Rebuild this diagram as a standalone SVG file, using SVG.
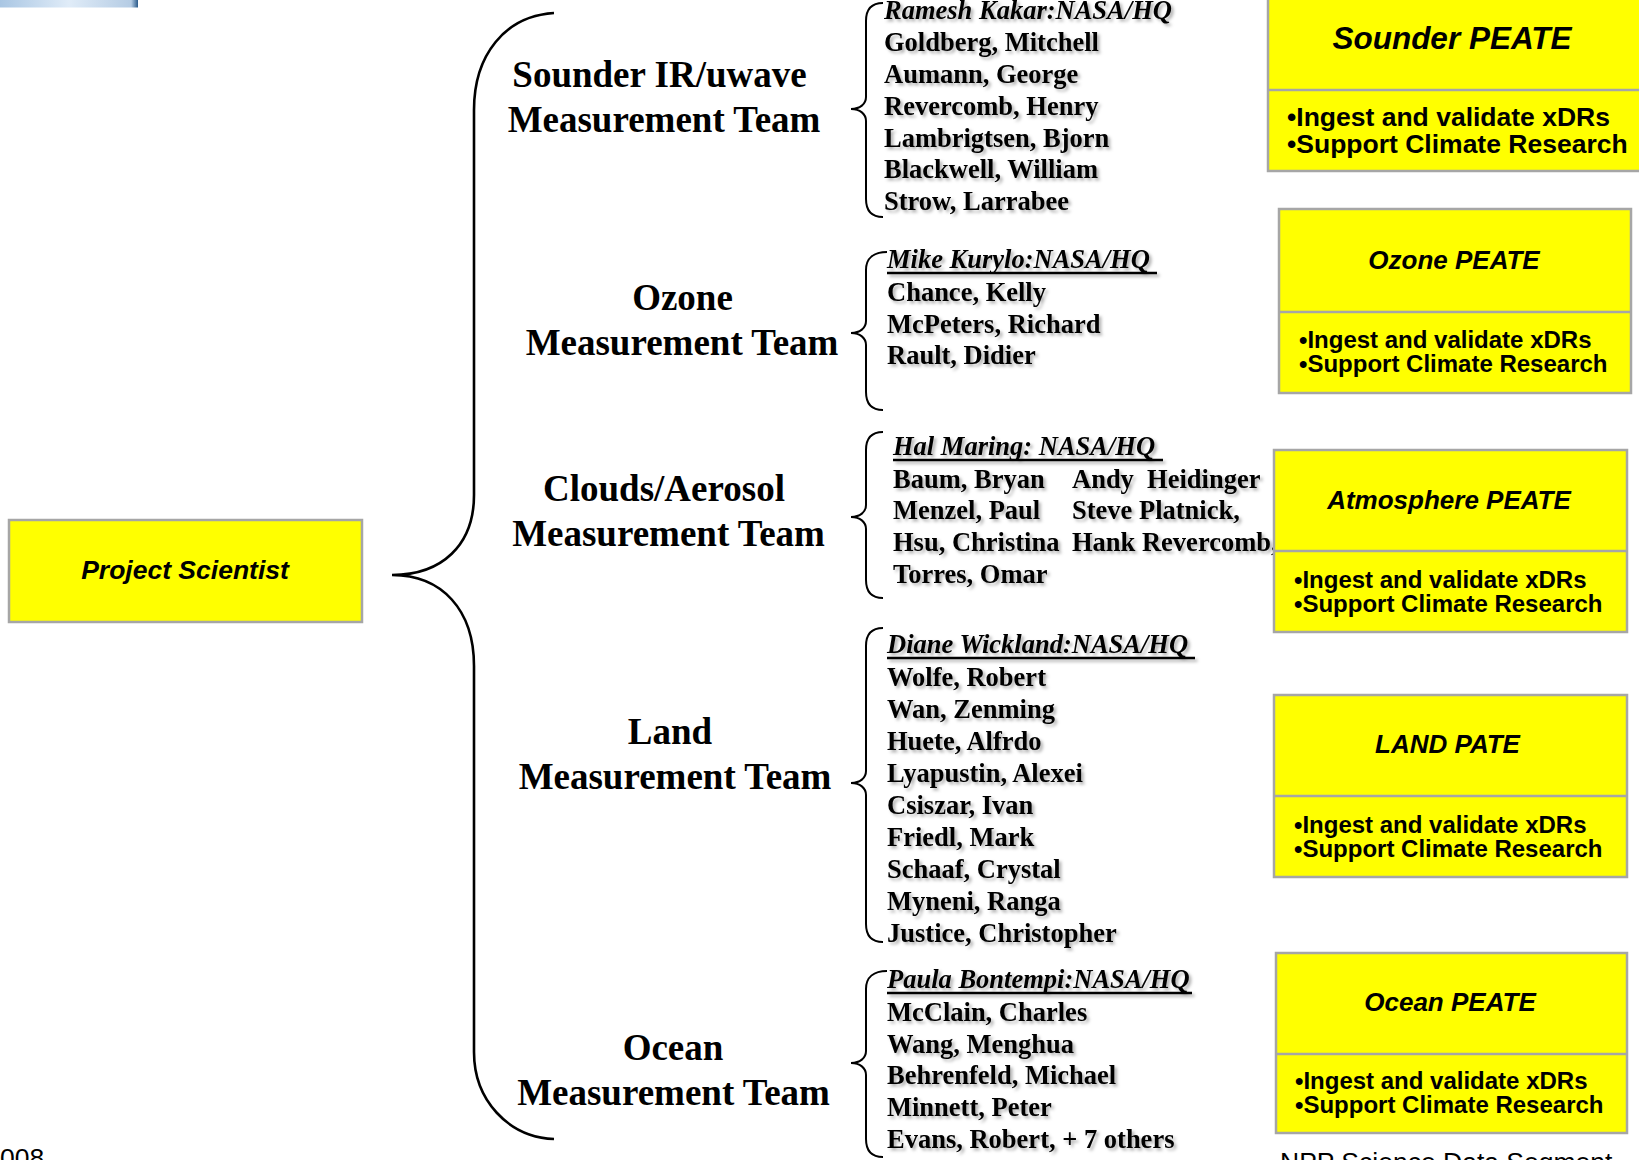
<svg xmlns="http://www.w3.org/2000/svg" width="1639" height="1160" viewBox="0 0 1639 1160">
<defs>
<linearGradient id="bar" x1="0" y1="0" x2="1" y2="0">
<stop offset="0" stop-color="#a9c6e3"/>
<stop offset="0.5" stop-color="#e0ecf8"/>
<stop offset="0.95" stop-color="#b5cce4"/>
<stop offset="1" stop-color="#2a5a8a"/>
</linearGradient>
<filter id="sh" x="-5%" y="-30%" width="115%" height="170%">
<feDropShadow dx="2.5" dy="2.5" stdDeviation="1.5" flood-color="#000" flood-opacity="0.3"/>
</filter>
</defs>
<style>
.box{fill:#ffff00;stroke:#a6a6a6;stroke-width:2.5}
.div{stroke:#a6a6a6;stroke-width:2.5}
.brace{fill:none;stroke:#000;stroke-width:2}
.big{fill:none;stroke:#000;stroke-width:2.6}
.team{font-family:"Liberation Serif","Times New Roman",serif;font-weight:bold;font-size:37px;fill:#000;text-anchor:middle}
.nm{font-family:"Liberation Serif","Times New Roman",serif;font-weight:bold;font-size:26.5px;fill:#000}
.lead{font-family:"Liberation Serif","Times New Roman",serif;font-weight:bold;font-style:italic;font-size:26.5px;fill:#000}
.ul{stroke:#000;stroke-width:2.5}
.ttl{font-family:"Liberation Sans",Arial,sans-serif;font-weight:bold;font-style:italic;font-size:26px;fill:#000;text-anchor:middle}
.bul{font-family:"Liberation Sans",Arial,sans-serif;font-weight:bold;font-size:24px;fill:#000}
.foot{font-family:"Liberation Sans",Arial,sans-serif;font-size:26.5px;fill:#000}
</style>
<rect x="0" y="0" width="138" height="7.5" fill="url(#bar)"/>

<g id="connectors">
<path class="big" d="M554,13 C505,16 474,55 474,110 L474,495 C474,545 442,575 392,575 C442,575 474,610 474,666 L474,1052 C474,1100 508,1137 554,1139"/>
<path class="brace" d="M883,3 C872,3 866,9 866,21 L866,97 C866,104 860,109 851,109 C860,109 866,114 866,121 L866,199 C866,211 872,217 883,217"/>
<path class="brace" d="M887,252 C874,252 866,258 866,270 L866,321 C866,328 860,333 851,333 C860,333 866,338 866,345 L866,392 C866,404 872,410 883,410"/>
<path class="brace" d="M883,432 C872,432 866,438 866,450 L866,505 C866,512 860,517 851,517 C860,517 866,522 866,529 L866,580 C866,592 872,598 883,598"/>
<path class="brace" d="M883,628 C872,628 866,634 866,646 L866,771 C866,778 860,783 851,783 C860,783 866,788 866,795 L866,924 C866,936 872,942 883,942"/>
<path class="brace" d="M887,971 C874,971 866,977 866,989 L866,1051 C866,1058 860,1063 851,1063 C860,1063 866,1068 866,1075 L866,1139 C866,1151 872,1157 883,1157"/>
</g>

<g id="project-scientist">
<rect class="box" x="9" y="520" width="353" height="102"/>
<text class="ttl" x="185" y="579" style="font-size:26.5px">Project Scientist</text>
</g>

<g id="team-sounder">
<text class="team" x="659.5" y="87">Sounder IR/uwave</text>
<text class="team" x="664" y="132">Measurement Team</text>
</g>
<g id="team-ozone">
<text class="team" x="682.5" y="310">Ozone</text>
<text class="team" x="682" y="355">Measurement Team</text>
</g>
<g id="team-clouds">
<text class="team" x="664" y="501">Clouds/Aerosol</text>
<text class="team" x="668.5" y="546">Measurement Team</text>
</g>
<g id="team-land">
<text class="team" x="670" y="744">Land</text>
<text class="team" x="675" y="789">Measurement Team</text>
</g>
<g id="team-ocean">
<text class="team" x="673" y="1060">Ocean</text>
<text class="team" x="673.5" y="1105">Measurement Team</text>
</g>

<g id="members-sounder" filter="url(#sh)">
<text class="lead" x="884" y="19">Ramesh Kakar:NASA/HQ</text>
<text class="nm" x="884" y="51">Goldberg, Mitchell</text>
<text class="nm" x="884" y="83">Aumann, George</text>
<text class="nm" x="884" y="115">Revercomb, Henry</text>
<text class="nm" x="884" y="147">Lambrigtsen, Bjorn</text>
<text class="nm" x="884" y="178">Blackwell, William</text>
<text class="nm" x="884" y="210">Strow, Larrabee</text>
</g>

<g id="members-ozone" filter="url(#sh)">
<text class="lead" x="887" y="268">Mike Kurylo:NASA/HQ</text>
<line class="ul" x1="887" y1="273" x2="1157" y2="273"/>
<text class="nm" x="887" y="301">Chance, Kelly</text>
<text class="nm" x="887" y="333">McPeters, Richard</text>
<text class="nm" x="887" y="364">Rault, Didier</text>
</g>

<g id="members-clouds" filter="url(#sh)">
<text class="lead" x="893" y="455">Hal Maring: NASA/HQ</text>
<line class="ul" x1="893" y1="460" x2="1163" y2="460"/>
<text class="nm" x="893" y="488">Baum, Bryan</text>
<text class="nm" x="893" y="519">Menzel, Paul</text>
<text class="nm" x="893" y="551">Hsu, Christina</text>
<text class="nm" x="893" y="583">Torres, Omar</text>
<text class="nm" x="1072" y="488" xml:space="preserve">Andy  Heidinger</text>
<text class="nm" x="1072" y="519">Steve Platnick,</text>
<text class="nm" x="1072" y="551">Hank Revercomb,</text>
</g>

<g id="members-land" filter="url(#sh)">
<text class="lead" x="887" y="653">Diane Wickland:NASA/HQ</text>
<line class="ul" x1="887" y1="658" x2="1195" y2="658"/>
<text class="nm" x="887" y="686">Wolfe, Robert</text>
<text class="nm" x="887" y="718">Wan, Zenming</text>
<text class="nm" x="887" y="750">Huete, Alfrdo</text>
<text class="nm" x="887" y="782">Lyapustin, Alexei</text>
<text class="nm" x="887" y="814">Csiszar, Ivan</text>
<text class="nm" x="887" y="846">Friedl, Mark</text>
<text class="nm" x="887" y="878">Schaaf, Crystal</text>
<text class="nm" x="887" y="910">Myneni, Ranga</text>
<text class="nm" x="887" y="942">Justice, Christopher</text>
</g>

<g id="members-ocean" filter="url(#sh)">
<text class="lead" x="887" y="988">Paula Bontempi:NASA/HQ</text>
<line class="ul" x1="887" y1="993" x2="1192" y2="993"/>
<text class="nm" x="887" y="1021">McClain, Charles</text>
<text class="nm" x="887" y="1053">Wang, Menghua</text>
<text class="nm" x="887" y="1084">Behrenfeld, Michael</text>
<text class="nm" x="887" y="1116">Minnett, Peter</text>
<text class="nm" x="887" y="1148">Evans, Robert, + 7 others</text>
</g>

<g id="peate-sounder">
<rect class="box" x="1268" y="-5" width="380" height="176"/>
<line class="div" x1="1268" y1="90" x2="1648" y2="90"/>
<text class="ttl" x="1452" y="49" style="font-size:31.5px">Sounder PEATE</text>
<text class="bul" x="1287" y="126" style="font-size:26.5px">•Ingest and validate xDRs</text>
<text class="bul" x="1287" y="153" style="font-size:26.5px">•Support Climate Research</text>
</g>

<g id="peate-ozone">
<rect class="box" x="1279" y="209" width="352" height="184"/>
<line class="div" x1="1279" y1="312" x2="1631" y2="312"/>
<text class="ttl" x="1454" y="269">Ozone PEATE</text>
<text class="bul" x="1299" y="348">•Ingest and validate xDRs</text>
<text class="bul" x="1299" y="372">•Support Climate Research</text>
</g>

<g id="peate-atmosphere">
<rect class="box" x="1274" y="450" width="353" height="182"/>
<line class="div" x1="1274" y1="551" x2="1627" y2="551"/>
<text class="ttl" x="1449" y="509">Atmosphere PEATE</text>
<text class="bul" x="1294" y="588">•Ingest and validate xDRs</text>
<text class="bul" x="1294" y="612">•Support Climate Research</text>
</g>

<g id="pate-land">
<rect class="box" x="1274" y="695" width="353" height="182"/>
<line class="div" x1="1274" y1="796" x2="1627" y2="796"/>
<text class="ttl" x="1447.5" y="753">LAND PATE</text>
<text class="bul" x="1294" y="833">•Ingest and validate xDRs</text>
<text class="bul" x="1294" y="857">•Support Climate Research</text>
</g>

<g id="peate-ocean">
<rect class="box" x="1276" y="953" width="351" height="180"/>
<line class="div" x1="1276" y1="1054" x2="1627" y2="1054"/>
<text class="ttl" x="1450" y="1011">Ocean PEATE</text>
<text class="bul" x="1295" y="1089">•Ingest and validate xDRs</text>
<text class="bul" x="1295" y="1113">•Support Climate Research</text>
</g>

<text class="foot" x="0" y="1167">008</text>
<text class="foot" x="1280" y="1171">NPP Science Data Segment</text>
</svg>
